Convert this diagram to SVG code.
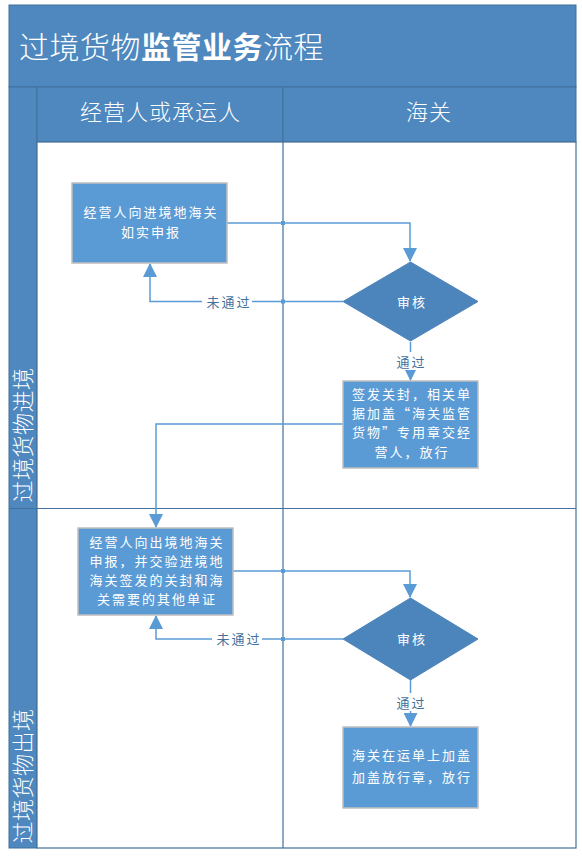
<svg xmlns="http://www.w3.org/2000/svg" width="582" height="860" viewBox="0 0 582 860">
<style>
text{font-family:"Noto Sans CJK SC","Noto Sans",sans-serif;fill:#fff}
.hdr{fill:#4E88BE;stroke:#41719C;stroke-width:1}
.box{fill:#5B9BD5;stroke:#BFBFBF;stroke-width:1.5}
.dia{fill:#4C84BC;stroke:#4C84BC;stroke-width:1}
.lane{fill:none;stroke:#41719C;stroke-width:1.2}
.con{fill:none;stroke:#5B9BD5;stroke-width:1.5}
.t14{font-size:13px;letter-spacing:2px;text-anchor:middle}
.lbl{font-size:13px;letter-spacing:2px;text-anchor:middle;fill:#41719C}
.lbg{fill:#fff}
.dot{fill:#5B9BD5}
</style>
<defs>
<marker id="ah" viewBox="0 0 14 14" refX="13" refY="7" markerWidth="14" markerHeight="14" markerUnits="userSpaceOnUse" orient="auto">
<path d="M0,0 L14,7 L0,14 Z" fill="#5B9BD5"/>
</marker>
</defs>
<rect width="582" height="860" fill="#fff"/>
<g id="title">
<rect class="hdr" x="9" y="5" width="567" height="82"/>
<text x="19" y="58" style="font-size:30px;letter-spacing:0.5px;font-weight:300">过境货物<tspan font-weight="bold">监管业务</tspan>流程</text>
</g>
<g id="pool">
<rect class="hdr" x="9" y="87" width="28" height="761"/>
<rect class="hdr" x="37" y="87" width="246" height="55"/>
<rect class="hdr" x="283" y="87" width="293" height="55"/>
<rect x="37" y="142" width="539" height="706" fill="#fff"/>
<line class="lane" x1="283" y1="142" x2="283" y2="848"/>
<line class="lane" x1="9" y1="508.5" x2="576" y2="508.5"/>
<rect class="lane" x="37" y="142" width="539" height="706"/>
</g>
<g id="col-operator"><text x="160.5" y="120" style="font-size:22px;letter-spacing:1px;text-anchor:middle;font-weight:300">经营人或承运人</text></g>
<g id="col-customs"><text x="429" y="120" style="font-size:22px;letter-spacing:1px;text-anchor:middle;font-weight:300">海关</text></g>
<g id="lane-entry"><text transform="translate(30.5,435) rotate(-90)" style="font-size:22px;letter-spacing:0.5px;text-anchor:middle;font-weight:300">过境货物进境</text></g>
<g id="lane-exit"><text transform="translate(30.5,776) rotate(-90)" style="font-size:22px;letter-spacing:0.5px;text-anchor:middle;font-weight:300">过境货物出境</text></g>

<g id="connectors">
<path class="con" d="M227,223 H410 V261" marker-end="url(#ah)"/>
<path class="con" d="M343,301.5 H150 V264" marker-end="url(#ah)"/>
<path class="con" d="M410.5,342 V380" marker-end="url(#ah)"/>
<path class="con" d="M343,424 H156 V527" marker-end="url(#ah)"/>
<path class="con" d="M233,571 H410 V597" marker-end="url(#ah)"/>
<path class="con" d="M343,639 H156 V616" marker-end="url(#ah)"/>
<path class="con" d="M410.5,680 V726" marker-end="url(#ah)"/>
<rect class="lbg" x="202" y="292" width="50" height="18"/>
<text class="lbl" x="229" y="306.5">未通过</text>
<rect class="lbg" x="212" y="630" width="50" height="18"/>
<text class="lbl" x="239" y="644">未通过</text>
<rect class="lbg" x="393" y="352" width="35" height="18"/>
<text class="lbl" x="411.5" y="367">通过</text>
<rect class="lbg" x="393" y="693" width="35" height="18"/>
<text class="lbl" x="411.5" y="708">通过</text>
<rect class="dot" x="281" y="221" width="4" height="4"/>
<rect class="dot" x="281" y="299.5" width="4" height="4"/>
<rect class="dot" x="281" y="569" width="4" height="4"/>
<rect class="dot" x="281" y="637" width="4" height="4"/>
</g>

<g id="n1">
<rect class="box" x="72" y="183" width="155" height="80"/>
<text class="t14" x="151" y="217">经营人向进境地海关</text>
<text class="t14" x="151" y="237">如实申报</text>
</g>
<g id="n2">
<polygon class="dia" points="410.5,262 478,301.5 410.5,341 343,301.5"/>
<text class="t14" x="412" y="306.5">审核</text>
</g>
<g id="n3">
<rect class="box" x="343" y="381" width="135" height="87"/>
<text class="t14" x="412" y="399">签发关封，相关单</text>
<text class="t14" x="412" y="418">据加盖“海关监管</text>
<text class="t14" x="412" y="437">货物”专用章交经</text>
<text class="t14" x="412" y="457">营人，放行</text>
</g>
<g id="n4">
<rect class="box" x="78" y="528" width="155" height="87"/>
<text class="t14" x="157" y="547">经营人向出境地海关</text>
<text class="t14" x="157" y="566">申报，并交验进境地</text>
<text class="t14" x="157" y="585">海关签发的关封和海</text>
<text class="t14" x="157" y="604">关需要的其他单证</text>
</g>
<g id="n5">
<polygon class="dia" points="410.5,598 478,639 410.5,680 343,639"/>
<text class="t14" x="412" y="644">审核</text>
</g>
<g id="n6">
<rect class="box" x="343" y="727" width="135" height="81"/>
<text class="t14" x="412" y="760">海关在运单上加盖</text>
<text class="t14" x="412" y="782">加盖放行章，放行</text>
</g>
</svg>
